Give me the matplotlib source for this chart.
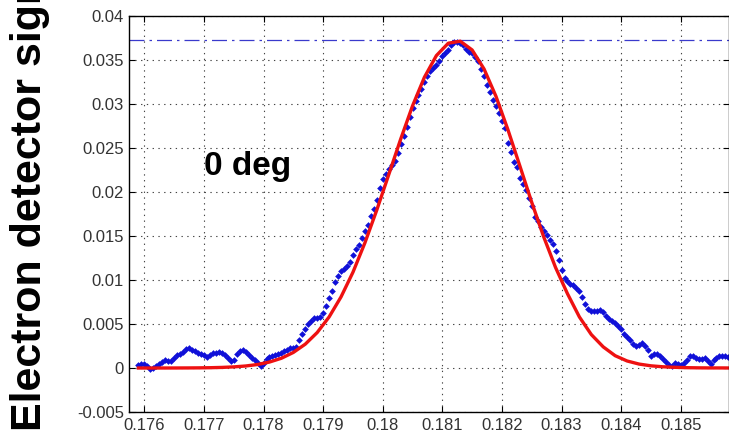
import numpy as np
import matplotlib
matplotlib.use("Agg")
import matplotlib.pyplot as plt

# measured trace (units of 1e-3), sampled every 5e-5 starting at 0.17590
x_start, x_step = 0.17590, 0.00005
signal = [
    0.34, 0.45, 0.45, 0.23, -0.06, -0.05, 0.25, 0.48, 0.70, 0.90,
    0.80, 0.84, 1.18, 1.49, 1.61, 1.81, 2.11, 2.30, 2.07, 1.89,
    1.76, 1.61, 1.44, 1.30, 1.49, 1.65, 1.76, 1.83, 1.73, 1.51,
    1.17, 0.83, 0.91, 1.59, 1.93, 2.05, 1.77, 1.45, 1.11, 0.86,
    0.60, 0.22, 0.57, 0.97, 1.23, 1.35, 1.44, 1.56, 1.74, 1.91,
    2.08, 2.25, 2.33, 2.40, 3.13, 3.86, 4.49, 4.97, 5.39, 5.63,
    5.72, 5.78, 6.22, 7.07, 7.92, 8.77, 9.77, 10.48, 11.00, 11.30,
    11.55, 12.05, 12.80, 13.47, 13.98, 14.77, 15.56, 16.25, 17.24, 18.07,
    19.09, 20.49, 21.48, 22.08, 22.64, 23.03, 23.48, 24.38, 25.42, 26.42,
    27.44, 28.56, 29.55, 30.34, 31.05, 31.70, 32.53, 33.16, 33.70, 34.05,
    34.48, 34.93, 35.47, 35.77, 36.17, 36.68, 37.10, 37.06, 36.89, 36.70,
    36.20, 35.91, 35.81, 35.39, 34.83, 33.99, 33.13, 32.11, 31.36, 30.43,
    29.72, 29.02, 28.03, 27.28, 25.59, 24.49, 23.45, 22.88, 21.55, 20.91,
    20.18, 19.36, 18.38, 17.18, 16.65, 15.98, 15.53, 15.09, 14.57, 14.11,
    13.27, 12.25, 11.19, 10.19, 9.89, 9.58, 9.41, 9.10, 8.72, 8.05,
    7.27, 6.68, 6.44, 6.44, 6.52, 6.63, 6.40, 5.91, 5.57, 5.31,
    5.09, 4.75, 4.38, 3.92, 3.55, 3.22, 2.77, 2.48, 2.64, 2.81,
    2.47, 2.02, 1.34, 1.56, 1.58, 1.39, 1.00, 0.70, 0.35, 0.26,
    0.57, 0.47, 0.38, 0.60, 0.89, 1.39, 1.41, 1.19, 1.01, 0.98,
    1.14, 0.85, 0.48, 0.91, 1.18, 1.42, 1.41, 1.34, 1.24,
]

# gaussian fit curve (units of 1e-3), every 2e-4 starting at 0.1759
fit_start, fit_step = 0.1759, 0.0002
fit = [
    0.00, 0.00, 0.002, 0.004, 0.009, 0.018, 0.035, 0.068, 0.128, 0.230,
    0.40, 0.68, 1.11, 1.77, 2.71, 4.03, 5.80, 8.08, 10.88, 14.21,
    17.95, 21.96, 25.99, 29.79, 33.05, 35.50, 36.91, 37.14, 36.14, 33.98,
    30.87, 27.09, 22.98, 18.83, 14.92, 11.42, 8.44, 5.80, 3.80, 2.40,
    1.40, 0.80, 0.45, 0.25, 0.14, 0.08, 0.04, 0.02, 0.01, 0.01, 0.00,
]
peak_level = 0.03725

xticks = [0.176, 0.177, 0.178, 0.179, 0.18, 0.181, 0.182, 0.183, 0.184, 0.185]
xtick_labels = ["0.176", "0.177", "0.178", "0.179", "0.18", "0.181", "0.182",
                "0.183", "0.184", "0.185"]
yticks = [-0.005, 0, 0.005, 0.01, 0.015, 0.02, 0.025, 0.03, 0.035, 0.04]
ytick_labels = ["-0.005", "0", "0.005", "0.01", "0.015", "0.02", "0.025",
                "0.03", "0.035", "0.04"]

plt.rcParams["font.family"] = ["Liberation Sans", "DejaVu Sans"]

xs = x_start + x_step * np.arange(len(signal))
ys = np.array(signal) * 1e-3
xf = fit_start + fit_step * np.arange(len(fit))
yf = np.array(fit) * 1e-3

fig = plt.figure(figsize=(7.29, 4.36), dpi=100)
ax = fig.add_axes([0.1774, 0.055, 0.8226, 0.9083])

ax.grid(True, color="#444444", linestyle=(0, (1.2, 4)), linewidth=0.8)
ax.set_axisbelow(True)

ax.axhline(peak_level, color="#3a3acc", linestyle=(0, (12, 4, 2, 4)), linewidth=0.9)
ax.plot(xs, ys, linestyle="none", marker="D", markersize=3.4,
        color="#1010d8", markeredgewidth=0)
ax.plot(xf, yf, color="#ee1111", linewidth=2.4, solid_joinstyle="round")

ax.text(0.17700, 0.0219, "0 deg", fontsize=24, fontweight="bold", va="baseline")

ax.set_xlim(0.175748, 0.18581)
ax.set_ylim(-0.005, 0.04)
ax.set_xticks(xticks)
ax.set_xticklabels(xtick_labels)
ax.set_yticks(yticks)
ax.set_yticklabels(ytick_labels)
ax.tick_params(direction="in", length=4, width=0.8, top=True, right=True,
               labelsize=12, labelcolor="#333333", pad=4)
for s in ax.spines.values():
    s.set_linewidth(1.0)

fig.text(0.014, 0.012, "Electron detector signal", rotation=90, fontsize=31,
         fontweight="bold", ha="left", va="bottom")

fig.savefig("out.png", dpi=100)
